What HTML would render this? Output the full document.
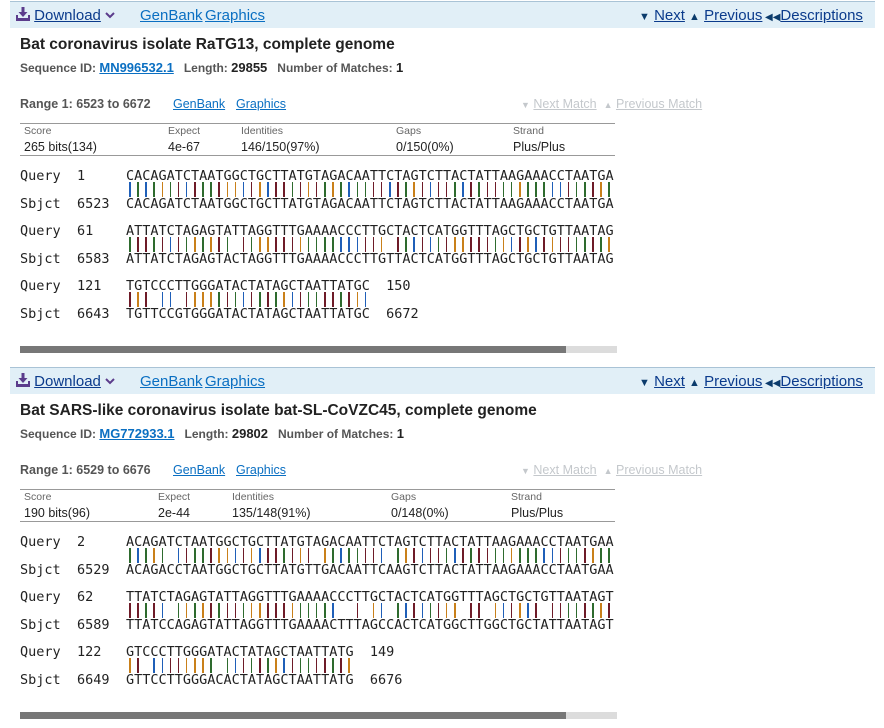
<!DOCTYPE html>
<html><head><meta charset="utf-8">
<style>
body{margin:0;width:884px;height:728px;background:#fff;position:relative;overflow:hidden;font-family:"Liberation Sans",sans-serif;color:#222}
.a{position:absolute;white-space:nowrap}
.hdr{position:absolute;left:10px;width:865px;height:26px;background:#e1eff7;border-top:1px solid #a9c3d6}
.lnk{color:#0b3b8c;text-decoration:underline}
.blue{color:#0a6fc2;text-decoration:underline}
.dis{color:#c4c8cc;text-decoration:underline}
.mono{font-family:"DejaVu Sans Mono","Liberation Mono",monospace;font-size:13.5px;color:#222;position:absolute;white-space:pre;line-height:14px}
.bar{display:inline-block;width:8.13px;height:16px;position:relative;vertical-align:top}
.bar i{position:absolute;left:3px;top:0;width:1.6px;height:15px}
</style></head><body>
<script>
const blocks=[
 {top:0,title:"Bat coronavirus isolate RaTG13, complete genome",sid:"MN996532.1",len:"29855",range:"Range 1: 6523 to 6672",
  score:"265 bits(134)",expect:"4e-67",ident:"146/150(97%)",gaps:"0/150(0%)",cols:[24,168,241,396,513],
  rows:[["1","CACAGATCTAATGGCTGCTTATGTAGACAATTCTAGTCTTACTATTAAGAAACCTAATGA","6523","CACAGATCTAATGGCTGCTTATGTAGACAATTCTAGTCTTACTATTAAGAAACCTAATGA","",""],
        ["61","ATTATCTAGAGTATTAGGTTTGAAAACCCTTGCTACTCATGGTTTAGCTGCTGTTAATAG","6583","ATTATCTAGAGTACTAGGTTTGAAAACCCTTGTTACTCATGGTTTAGCTGCTGTTAATAG","",""],
        ["121","TGTCCCTTGGGATACTATAGCTAATTATGC","6643","TGTTCCGTGGGATACTATAGCTAATTATGC","150","6672"]]},
 {top:366,title:"Bat SARS-like coronavirus isolate bat-SL-CoVZC45, complete genome",sid:"MG772933.1",len:"29802",range:"Range 1: 6529 to 6676",
  score:"190 bits(96)",expect:"2e-44",ident:"135/148(91%)",gaps:"0/148(0%)",cols:[24,158,232,391,511],
  rows:[["2","ACAGATCTAATGGCTGCTTATGTAGACAATTCTAGTCTTACTATTAAGAAACCTAATGAA","6529","ACAGACCTAATGGCTGCTTATGTTGACAATTCAAGTCTTACTATTAAGAAACCTAATGAA","",""],
        ["62","TTATCTAGAGTATTAGGTTTGAAAACCCTTGCTACTCATGGTTTAGCTGCTGTTAATAGT","6589","TTATCCAGAGTATTAGGTTTGAAAACTTTAGCCACTCATGGCTTGGCTGCTATTAATAGT","",""],
        ["122","GTCCCTTGGGATACTATAGCTAATTATG","6649","GTTCCTTGGGACACTATAGCTAATTATG","149","6676"]]}
];
const baseColor={A:"#2e6b2e",C:"#1f5fb8",G:"#c9801a",T:"#6e1b28"};
const dlIcon='<svg width="14" height="14" viewBox="0 0 14 14" style="vertical-align:-1px"><rect x="5.5" y="0" width="3" height="6" fill="#5b3c8c"/><polygon points="2.5,5 11.5,5 7,10" fill="#5b3c8c"/><rect x="0" y="11" width="14" height="3" fill="#5b3c8c"/><rect x="0" y="8" width="2" height="4" fill="#5b3c8c"/><rect x="12" y="8" width="2" height="4" fill="#5b3c8c"/></svg>';
const chev='<svg width="10" height="8" viewBox="0 0 10 8" style="vertical-align:1px"><polyline points="1,2 5,6 9,2" fill="none" stroke="#5b3c8c" stroke-width="2"/></svg>';
function mk(tag,cls,css,html){const e=document.createElement(tag);if(cls)e.className=cls;if(css)e.style.cssText=css;if(html!==undefined)e.innerHTML=html;document.body.appendChild(e);return e;}
blocks.forEach((b,bi)=>{
 const t=b.top;
 const h=mk('div','hdr','top:'+(t+1)+'px');
 
 
 const dl=mk('div','a','left:16px;top:'+(t+7)+'px;font-size:15px',dlIcon+' <span class="lnk">Download</span> '+chev);
 
 
 const gb=mk('div','a lnk','left:140px;top:'+(t+7)+'px;font-size:15px;color:#0a6fc2','GenBank');
 
 
 const gr=mk('div','a lnk','left:205px;top:'+(t+7)+'px;font-size:15px;color:#0a6fc2','Graphics');
 
 
 const nx=mk('div','a','left:639px;top:'+(t+7)+'px;font-size:15px;color:#0b3b6c','<span style="font-size:11px">&#9660;</span> <span class="lnk">Next</span>');
 
 
 const pv=mk('div','a','left:689px;top:'+(t+7)+'px;font-size:15px;color:#0b3b6c','<span style="font-size:11px">&#9650;</span> <span class="lnk">Previous</span>');
 
 
 const ds=mk('div','a','left:765px;top:'+(t+7)+'px;font-size:15px;color:#0b3b6c','<span style="font-size:10px">&#9664;&#9664;</span><span class="lnk">Descriptions</span>');
 
 
 const ti=mk('div','a','left:20px;top:'+(t+36)+'px;font-size:15.5px;font-weight:bold;color:#222',b.title);
 
 
 const si=mk('div','a','left:20px;top:'+(t+60)+'px;font-size:12px;font-weight:bold;color:#555','Sequence ID: <span class="blue" style="font-size:13px">'+b.sid+'</span>&nbsp;&nbsp; Length: <span style="color:#222;font-size:13px">'+b.len+'</span>&nbsp;&nbsp; Number of Matches: <span style="color:#222;font-size:13px">1</span>');
 
 
 const rg=mk('div','a','left:20px;top:'+(t+97)+'px;font-size:12.5px;font-weight:bold;color:#555',b.range);
 
 
 const rg1=mk('div','a blue','left:173px;top:'+(t+97)+'px;font-size:12.5px','GenBank');
 
 
 const rg2=mk('div','a blue','left:236px;top:'+(t+97)+'px;font-size:12.5px','Graphics');
 
 
 const nm=mk('div','a','left:521px;top:'+(t+97)+'px;font-size:12.5px;color:#c4c8cc','<span style="font-size:9px">&#9660;</span> <span class="dis">Next Match</span>&nbsp; <span style="font-size:9px">&#9650;</span> <span class="dis">Previous Match</span>');
 
 
 const tb=mk('div','a','left:20px;top:'+(t+123)+'px;width:595px;height:31px;border-top:1px solid #999;border-bottom:1px solid #999');
 
 
 const heads=["Score","Expect","Identities","Gaps","Strand"],vals=[b.score,b.expect,b.ident,b.gaps,"Plus/Plus"];
 heads.forEach((hd,i)=>{
  const c1=mk('div','a','left:'+b.cols[i]+'px;top:'+(t+125)+'px;font-size:10.5px;color:#666',hd);
  
  
  const c2=mk('div','a','left:'+b.cols[i]+'px;top:'+(t+140)+'px;font-size:12.5px;color:#222',vals[i]);
  
  
 });
 b.rows.forEach((r,ri)=>{
  const y=t+169+ri*55;
  const q=mk('div','mono','left:20px;top:'+y+'px','Query');
  
  
  const qn=mk('div','mono','left:77px;top:'+y+'px',r[0]);
  
  
  const qs=mk('div','mono','left:126px;top:'+y+'px',r[1]+(r[4]?'  '+r[4]:''));
  
  
  let bars='';
  for(let k=0;k<r[1].length;k++){
   bars+= r[1][k]===r[3][k] ? '<span class="bar"><i style="background:'+baseColor[r[1][k]]+'"></i></span>' : '<span class="bar"></span>';
  }
  const ml=mk('div','mono','left:126px;top:'+(y+13)+'px;white-space:nowrap;font-size:0;line-height:0',bars);
  
  
  const s=mk('div','mono','left:20px;top:'+(y+28)+'px','Sbjct');
  
  
  const sn=mk('div','mono','left:77px;top:'+(y+28)+'px',r[2]);
  
  
  const ss=mk('div','mono','left:126px;top:'+(y+28)+'px',r[3]+(r[5]?'  '+r[5]:''));
  
  
 });
 const sb=mk('div','a','left:20px;top:'+(t+346)+'px;width:597px;height:7px;background:#dcdcdc');
 
 
 const th=mk('div','a','left:20px;top:'+(t+346)+'px;width:546px;height:7px;background:#777');
 
 
});
</script>
</body></html>
